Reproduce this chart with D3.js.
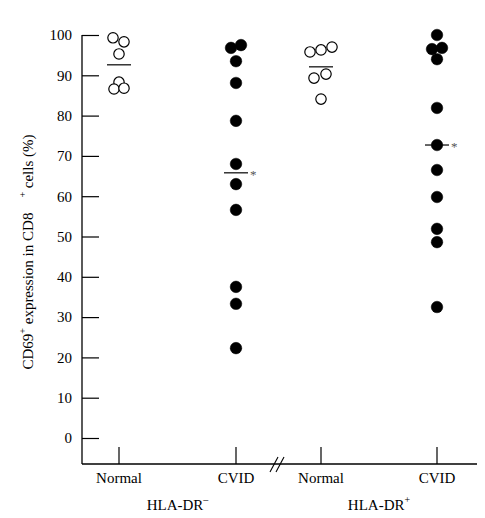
<!DOCTYPE html>
<html><head><meta charset="utf-8">
<script src="https://cdn.jsdelivr.net/npm/d3@7"></script>
<style>body{margin:0;background:#fff}svg{display:block}</style>
</head><body>
<script>
// ---- data ----
const groups = ["HLA-DR\u2212", "HLA-DR+"];
const categories = ["Normal", "CVID"];
const yTicks = [0,10,20,30,40,50,60,70,80,90,100];
const drNegNormal = [99.3, 98.3, 95.3, 88.3, 86.6, 86.8];
const drNegNormalJit = [-6, 5, 0, 0, -5, 5];
const drNegCVID = [96.8, 97.5, 93.5, 88.1, 78.7, 68.0, 63.0, 56.6, 37.5, 33.3, 22.3];
const drNegCVIDJit = [-5, 5, 0, 0, 0, 0, 0, 0, 0, 0, 0];
const drPosNormal = [95.8, 96.3, 97.0, 89.3, 90.3, 84.1];
const drPosNormalJit = [-11, 0, 11, -7, 5, 0];
const drPosCVID = [100, 96.5, 96.8, 94.0, 81.9, 72.7, 66.5, 59.8, 51.9, 48.6, 32.5];
const drPosCVIDJit = [0, -5, 5, 0, 0, 0, 0, 0, 0, 0, 0];
const means = [92.6, 65.8, 92.1, 72.7];
const significant = [false, true, false, true];

const W = 485, H = 518;
const svg = d3.select("body").append("svg").attr("width", W).attr("height", H)
  .style("font-family", "'Liberation Serif','Times New Roman',serif");

const y = d3.scaleLinear().domain([0, 100]).range([438, 35]);
const xNeg = d3.scalePoint().domain(categories).range([119, 236]);
const xPos = d3.scalePoint().domain(categories).range([321, 437]);
const axisX0 = 82, axisBottom = 464, axisRight = 477;

// y axis
const yAx = svg.append("g").attr("transform", `translate(${axisX0},0)`)
  .call(d3.axisLeft(y).tickValues(yTicks).tickSizeInner(-17).tickSizeOuter(0).tickPadding(10));
yAx.select(".domain").remove();
yAx.selectAll("line").attr("stroke", "#000").attr("stroke-width", 1.2);
yAx.selectAll("text").attr("font-size", 15).attr("fill", "#000")
  .style("font-family", "'Liberation Serif','Times New Roman',serif");
svg.append("line").attr("x1", axisX0).attr("x2", axisX0).attr("y1", y(100)).attr("y2", axisBottom)
  .attr("stroke", "#000").attr("stroke-width", 1.3);

// x axis
svg.append("line").attr("x1", axisX0).attr("x2", axisRight).attr("y1", axisBottom).attr("y2", axisBottom)
  .attr("stroke", "#000").attr("stroke-width", 1.3);
[xNeg, xPos].forEach(sc => {
  categories.forEach(c => {
    svg.append("line").attr("x1", sc(c)).attr("x2", sc(c)).attr("y1", axisBottom).attr("y2", axisBottom - 17)
      .attr("stroke", "#000").attr("stroke-width", 1.2);
    svg.append("text").attr("x", sc(c)).attr("y", 483).attr("text-anchor", "middle")
      .attr("font-size", 15).text(c);
  });
});
// break marks
const bx = 277;
[-3, 3].forEach(o => {
  svg.append("line").attr("x1", bx + o - 4).attr("y1", axisBottom + 8).attr("x2", bx + o + 4).attr("y2", axisBottom - 7)
    .attr("stroke", "#000").attr("stroke-width", 1.1);
});

// group labels
[[xNeg, "\u2013"], [xPos, "+"]].forEach(([sc, sup]) => {
  const cx = (sc("Normal") + sc("CVID")) / 2;
  const t = svg.append("text").attr("x", cx).attr("y", 510).attr("text-anchor", "middle").attr("font-size", 15);
  t.append("tspan").text("HLA-DR");
  t.append("tspan").attr("font-size", 10).attr("dy", -7).text(sup);
});

// y label
const yl = svg.append("text").attr("transform", "translate(33,252) rotate(-90)")
  .attr("text-anchor", "middle").attr("font-size", 15);
yl.append("tspan").text("CD69");
yl.append("tspan").attr("font-size", 10).attr("dy", -7).text("+");
yl.append("tspan").attr("dy", 7).text(" expression in CD8\u2003");
yl.append("tspan").attr("font-size", 10).attr("dy", -7).text("+");
yl.append("tspan").attr("dy", 7).text(" cells (%)");

// points
const sets = [
  {sc: xNeg, cat: "Normal", vals: drNegNormal, jit: drNegNormalJit, open: true},
  {sc: xNeg, cat: "CVID", vals: drNegCVID, jit: drNegCVIDJit, open: false},
  {sc: xPos, cat: "Normal", vals: drPosNormal, jit: drPosNormalJit, open: true},
  {sc: xPos, cat: "CVID", vals: drPosCVID, jit: drPosCVIDJit, open: false}
];
sets.forEach((s, i) => {
  const cx = s.sc(s.cat);
  svg.append("g").selectAll("circle").data(s.vals).join("circle")
    .attr("cx", (d, j) => cx + s.jit[j]).attr("cy", d => y(d))
    .attr("r", s.open ? 5.2 : 5.8)
    .attr("fill", s.open ? "#fff" : "#000")
    .attr("stroke", "#000").attr("stroke-width", s.open ? 1.2 : 0.5);
  svg.append("line").attr("x1", cx - 12).attr("x2", cx + 12).attr("y1", y(means[i])).attr("y2", y(means[i]))
    .attr("stroke", "#000").attr("stroke-width", 1.2);
  if (significant[i]) {
    svg.append("text").attr("x", cx + 14).attr("y", y(means[i]) + 6).attr("font-size", 13)
      .attr("fill", "#555").text("*");
  }
});
</script>
</body></html>
